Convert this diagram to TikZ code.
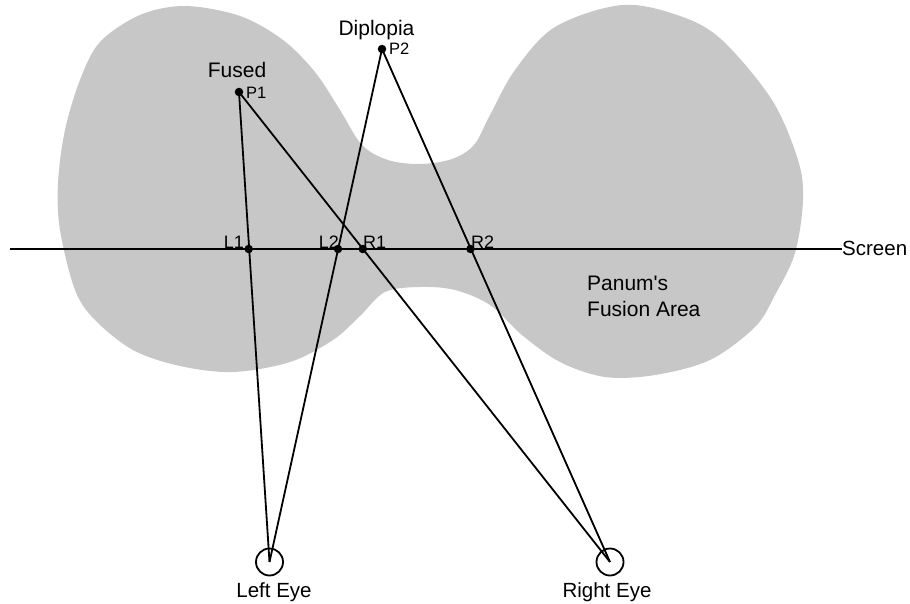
\documentclass[tikz,border=0pt]{standalone}
\usepackage{fontspec}
\setmainfont{Liberation Sans}
\definecolor{fusiongray}{RGB}{199,199,199}
\begin{document}
\begin{tikzpicture}[x=1pt,y=-1pt,
  ray/.style={draw=black,line width=1.8pt},
  dot/.style={circle,fill=black,inner sep=0pt,minimum size=8.5pt},
  eye/.style={circle,draw=black,line width=1.8pt,inner sep=0pt,minimum size=27pt},
  biglbl/.style={inner sep=0pt,font=\fontsize{21}{26}\selectfont},
  midlbl/.style={inner sep=0pt,font=\fontsize{20.5}{25}\selectfont},
  scrlbl/.style={inner sep=0pt,font=\fontsize{18}{22}\selectfont},
  smalllbl/.style={inner sep=0pt,font=\fontsize{16.5}{20}\selectfont}]
\useasboundingbox (0,0) rectangle (910,604);

% Panum's fusion area
\fill[fusiongray] plot[smooth cycle,tension=0.55] coordinates {
  (185,6) (240,16) (283,40) (315,72) (340,110) (362,145) (388,160) (420,164)
  (452,159) (474,145) (490,115) (515,70) (555,27) (622,5) (680,16) (722,40)
  (772,100) (798,160) (803,200) (795,253) (775,295) (755,327) (710,360)
  (655,375) (605,377) (560,362) (522,335) (490,305) (455,290) (420,287)
  (385,292) (360,316) (333,340) (290,362) (233,372) (180,366) (133,350)
  (95,320) (75,290) (60,230) (58,183) (65,130) (80,80) (100,42) (140,15)};

\node[biglbl,anchor=north west,align=left] (panum) at (587,276)
  {Panum\textquotesingle s\\Fusion Area};

% screen
\coordinate (scrL) at (10,249);
\node[midlbl,anchor=base west] (screen) at (842,255) {Screen};
\draw[line width=1.9pt] (scrL) -- (screen.west |- scrL);

% eyes and fixation points
\node[eye] (LE) at (269.5,562) {};
\node[eye] (RE) at (610,562) {};
\node[dot] (P1) at (239,92) {};
\node[dot] (P2) at (382,49) {};

% lines of sight
\draw[ray] (P1.center) -- (LE.center);
\draw[ray] (P1.center) -- (RE.center);
\draw[ray] (P2.center) -- (LE.center);
\draw[ray] (P2.center) -- (RE.center);

% image points on the screen
\node[dot] (L1) at (248.7,249) {};
\node[dot] (L2) at (338,249) {};
\node[dot] (R1) at (362.8,249) {};
\node[dot] (R2) at (470.5,249) {};

% labels
\node[biglbl,anchor=base] (fused) at (237,78) {Fused};
\node[smalllbl,anchor=base west] (p1l) at (246,99) {P1};
\node[biglbl,anchor=base] (dipl) at (376.5,36) {Diplopia};
\node[smalllbl,anchor=base west] (p2l) at (389,55) {P2};
\node[scrlbl,anchor=base east] (l1l) at (244,248) {L1};
\node[scrlbl,anchor=base east] (l2l) at (339,248) {L2};
\node[scrlbl,anchor=base west] (r1l) at (363,248) {R1};
\node[scrlbl,anchor=base west] (r2l) at (471,248) {R2};
\node[midlbl,anchor=base] (lel) at (274,597) {Left Eye};
\node[midlbl,anchor=base] (rel) at (607,597) {Right Eye};
\end{tikzpicture}
\end{document}
